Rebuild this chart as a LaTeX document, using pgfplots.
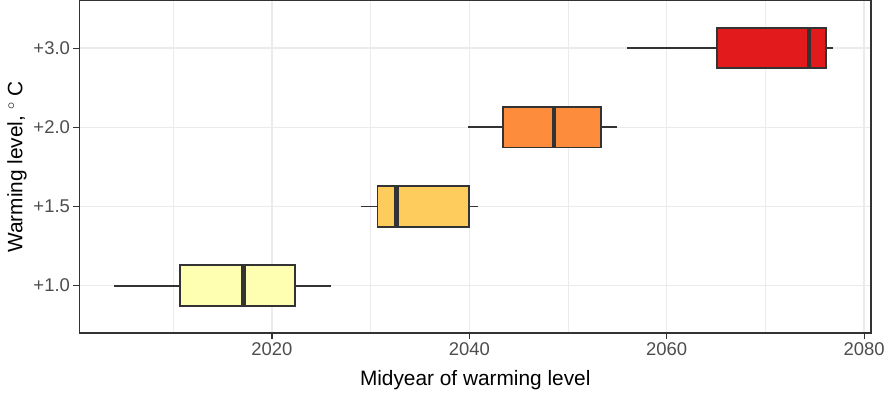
\documentclass[border=0pt]{standalone}
\usepackage{pgfplots}
\pgfplotsset{compat=1.18}
\usepgfplotslibrary{statistics}
\usepackage{fontspec}
\setmainfont{Liberation Sans}
\definecolor{Frame}{HTML}{333333}
\definecolor{TickText}{HTML}{4D4D4D}
\definecolor{Grid}{HTML}{EBEBEB}
\definecolor{W10}{HTML}{FFFFB2}
\definecolor{W15}{HTML}{FECC5C}
\definecolor{W20}{HTML}{FD8D3C}
\definecolor{W30}{HTML}{E31A1C}
\pgfplotsset{
  wl box/.style={draw=Frame,line width=1.9pt,solid,
    boxplot/box extend=0.51,boxplot/whisker extend=0,
    boxplot/every box/.style={draw=Frame,line width=1.9pt},
    boxplot/every whisker/.style={draw=Frame,line width=1.9pt},
    boxplot/every median/.style={draw=Frame,line width=4.6pt}},
}
\begin{document}
\begin{tikzpicture}
\begin{axis}[scale only axis,width=798pt,height=335pt,
  xmin=2000.5,xmax=2080.7,ymin=0.4,ymax=4.6,
  axis line style={draw=Frame,line width=1.5pt},
  xtick={2020,2040,2060,2080},minor xtick={2010,2030,2050,2070},
  ytick={1,2,3,4},yticklabels={+1.0,+1.5,+2.0,+3.0},
  tick align=outside,major tick length=6pt,minor tick length=0pt,
  tick style={draw=Frame,line width=1.3pt},
  xtick pos=bottom,ytick pos=left,
  grid=both,major grid style={draw=Grid,line width=1.5pt},
  minor grid style={draw=Grid,line width=0.9pt},
  /pgf/number format/assume math mode=true,
  /pgf/number format/1000 sep={},
  tick label style={font=\fontsize{18.6}{20}\selectfont,text=TickText},
  label style={font=\fontsize{21}{24}\selectfont,text=black},
  xlabel={Midyear of warming level},
  xlabel style={yshift=-8pt},
  ylabel={Warming level, $^\circ$ C}]
  % +1.0
  \addplot+[wl box,fill=W10,boxplot prepared={draw position=1,
    lower whisker=2004.0,lower quartile=2010.7,median=2017.1,
    upper quartile=2022.3,upper whisker=2026.0}] coordinates {};
  % +1.5
  \addplot+[wl box,fill=W15,boxplot prepared={draw position=2,
    lower whisker=2029.0,lower quartile=2030.7,median=2032.6,
    upper quartile=2040.0,upper whisker=2040.9}] coordinates {};
  % +2.0
  \addplot+[wl box,fill=W20,boxplot prepared={draw position=3,
    lower whisker=2039.9,lower quartile=2043.4,median=2048.6,
    upper quartile=2053.3,upper whisker=2055.0}] coordinates {};
  % +3.0
  \addplot+[wl box,fill=W30,boxplot prepared={draw position=4,
    lower whisker=2056.0,lower quartile=2065.1,median=2074.4,
    upper quartile=2076.1,upper whisker=2076.8}] coordinates {};
\end{axis}
\path (current axis.south west) ++(-80pt,0pt);
\end{tikzpicture}
\end{document}
